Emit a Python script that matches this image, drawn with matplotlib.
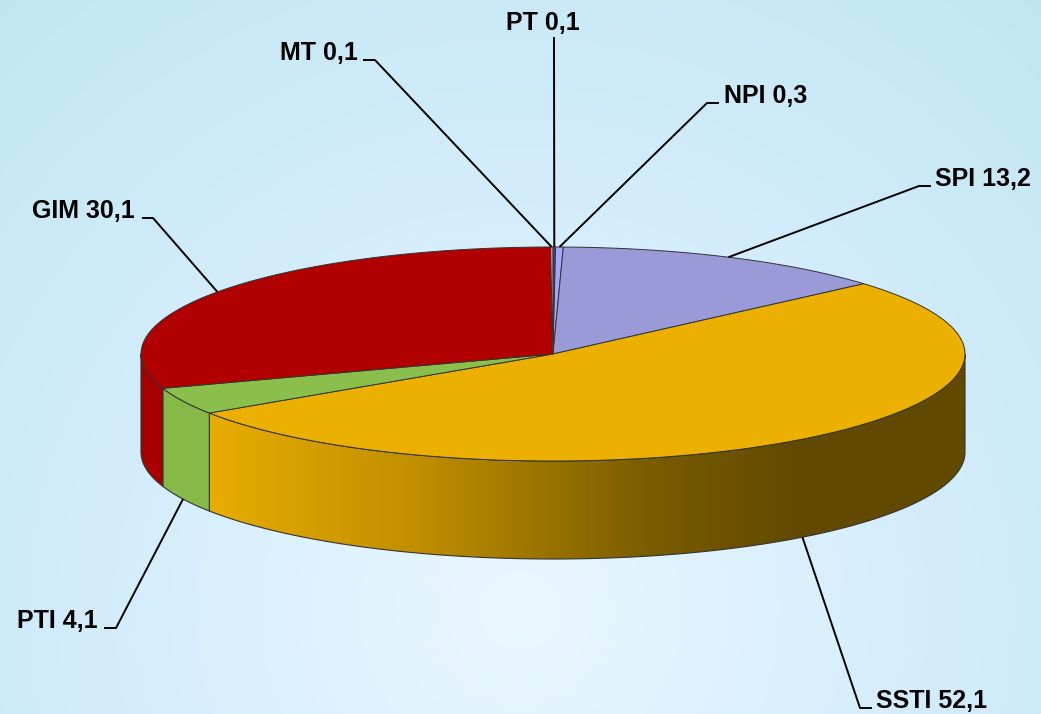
import numpy as np
import matplotlib
matplotlib.use('Agg')
import matplotlib.pyplot as plt
from matplotlib.patches import Polygon
from matplotlib.colors import LinearSegmentedColormap

# data, clockwise from 12 o'clock
labels = ['PT', 'NPI', 'SPI', 'SSTI', 'PTI', 'GIM', 'MT']
values = [0.1, 0.3, 13.2, 52.1, 4.1, 30.1, 0.1]
value_text = ['0,1', '0,3', '13,2', '52,1', '4,1', '30,1', '0,1']
top_colors = ['#1f5aa6', '#a4a4ff', '#9a9ad9', '#ecb100', '#8bbf4b', '#b00000', '#f08080']
side_colors = ['#1a4c8c', '#8c8cd8', '#8080c0', None, '#86b947', '#a80000', '#d06a6a']

# label layout: (text x, text y, ha, elbow, horizontal end)
label_pos = {
    'PT':   (543, 30, 'center', (554, 37), (554, 37)),
    'NPI':  (724, 103, 'left', (707, 103), (719, 103)),
    'SPI':  (935, 186, 'left', (919, 186), (931, 186)),
    'SSTI': (876, 708, 'left', (860, 708), (872, 708)),
    'PTI':  (98, 628, 'right', (116, 628), (104, 628)),
    'GIM':  (135, 218, 'right', (153, 218), (142, 218)),
    'MT':   (358, 60, 'right', (375, 60), (363, 60)),
}

W, H = 1041, 714
cx, cy, a, b, depth = 553, 354, 412, 107, 98


def pt(theta, dz=0.0):
    t = np.radians(theta)
    return np.column_stack([cx + a * np.sin(t), cy - b * np.cos(t) + dz])


fig = plt.figure(figsize=(W / 100, H / 100), dpi=100)
ax = fig.add_axes([0, 0, 1, 1])
ax.set_xlim(0, W)
ax.set_ylim(H, 0)
ax.axis('off')

# background radial gradient
yy, xx = np.mgrid[0:H, 0:W]
r = np.sqrt(((xx - 520) / 720.0) ** 2 + ((yy - 610) / 720.0) ** 2)
bg_cmap = LinearSegmentedColormap.from_list(
    'bg', [(0, '#eaf7ff'), (0.45, '#d4edfc'), (0.85, '#c3e7f2'), (1.0, '#b9e2e2')])
ax.imshow(bg_cmap(np.clip(r / 1.25, 0, 1)), extent=[0, W, H, 0], aspect='auto', zorder=0)

fracs = np.array(values) / sum(values) * 360.0
starts = np.concatenate([[0], np.cumsum(fracs)[:-1]])
ends = starts + fracs

# side walls (front half: 90..270 deg)
for i in range(len(values)):
    s0, s1 = max(starts[i], 90), min(ends[i], 270)
    if s1 <= s0:
        continue
    arc = np.linspace(s0, s1, 200)
    poly = np.vstack([pt(arc), pt(arc[::-1], depth)])
    if side_colors[i] is None:
        patch = Polygon(poly, closed=True, facecolor='none', edgecolor='#333333', lw=0.8, zorder=3)
        ax.add_patch(patch)
        grad_cmap = LinearSegmentedColormap.from_list(
            'side', [(0, '#e8ad00'), (0.35, '#c08f00'), (0.75, '#7a5c00'), (1.0, '#614a00')])
        x0, x1 = poly[:, 0].min(), 800
        g = np.linspace(0, 1, 400)[None, :]
        img = ax.imshow(grad_cmap(g), extent=[x0, x1, poly[:, 1].max(), poly[:, 1].min()],
                        aspect='auto', zorder=2)
        img.set_clip_path(patch)
        img2 = ax.imshow(grad_cmap(np.ones((1, 2))), extent=[x1 - 1, poly[:, 0].max() + 1,
                         poly[:, 1].max(), poly[:, 1].min()], aspect='auto', zorder=2)
        img2.set_clip_path(patch)
    else:
        ax.add_patch(Polygon(poly, closed=True, facecolor=side_colors[i],
                             edgecolor='#333333', lw=0.8, zorder=3))

# top face
for i in range(len(values)):
    arc = np.linspace(starts[i], ends[i], max(int(fracs[i] * 3), 4))
    poly = np.vstack([[cx, cy], pt(arc)])
    ax.add_patch(Polygon(poly, closed=True, facecolor=top_colors[i],
                         edgecolor='#333333', lw=0.7, zorder=4))

# labels with leader lines
for i, name in enumerate(labels):
    mid = starts[i] + fracs[i] / 2
    dz = depth if 90 < mid < 270 else 0
    anchor = pt(np.array([mid]), dz)[0]
    tx, ty, ha, elbow, hend = label_pos[name]
    ax.plot([anchor[0], elbow[0], hend[0]], [anchor[1], elbow[1], hend[1]],
            color='black', lw=1.4, zorder=5, solid_capstyle='butt')
    ax.text(tx, ty, f'{name} {value_text[i]}', ha=ha, va='baseline',
            fontsize=18, fontweight='bold', family=['Liberation Sans', 'DejaVu Sans'],
            color='black', zorder=6)

fig.savefig('out.png', dpi=100)
